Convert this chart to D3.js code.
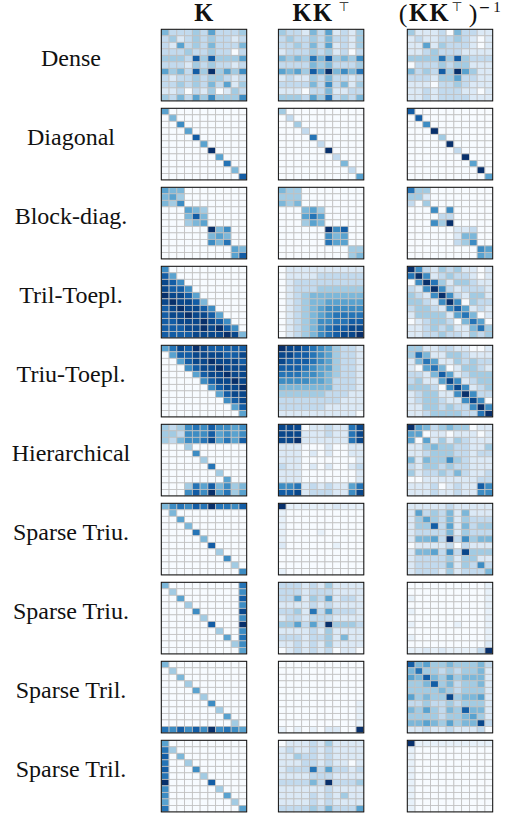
<!DOCTYPE html>
<html>
<head>
<meta charset="utf-8">
<script src="https://cdn.jsdelivr.net/npm/d3@7"></script>
<style>
  html, body { margin: 0; padding: 0; background: #fff; }
  text { font-family: "Liberation Serif", serif; fill: #111; }
</style>
</head>
<body>
<div id="chart"></div>
<script>
const rowLabels = ["Dense", "Diagonal", "Block-diag.", "Tril-Toepl.", "Triu-Toepl.", "Hierarchical",
                   "Sparse Triu.", "Sparse Triu.", "Sparse Tril.", "Sparse Tril."];

// colour levels, 0 = palest, 10 = darkest
const denseK = [
  [4,2,2,2,3,2,5,2,2,2,3],[2,3,1,2,3,2,3,2,2,1,2],[2,1,5,2,3,2,4,2,2,2,4],[2,2,2,3,2,2,3,2,2,0,2],
  [3,3,3,2,8,3,8,3,3,3,5],[2,2,2,1,3,2,3,2,2,1,2],[5,3,4,2,8,3,10,3,5,3,6],[2,1,2,2,3,2,3,3,2,1,2],
  [2,2,3,2,3,2,4,2,5,1,3],[1,1,2,0,2,1,3,0,1,3,2],[3,2,4,2,5,3,6,3,3,3,6]];
const denseKKt = [
  [3,2,2,1,4,2,5,1,2,1,3],[2,3,2,2,3,2,4,2,2,1,3],[2,2,3,2,4,2,5,1,2,1,3],[1,2,2,2,3,2,3,1,2,0,2],
  [4,3,4,3,7,4,8,3,4,3,6],[2,2,2,2,4,3,4,2,2,2,3],[5,4,5,3,8,5,10,4,6,4,7],[1,2,1,1,3,2,4,2,2,1,2],
  [2,2,2,2,4,2,6,2,4,1,3],[1,1,1,0,2,2,4,1,1,2,2],[3,3,3,2,5,3,7,2,3,2,4]];
const denseInv = [
  [3,1,1,1,2,0,4,2,2,1,1],[1,2,1,1,2,2,3,2,1,0,1],[1,1,5,1,3,2,2,2,1,0,1],[1,1,2,3,2,2,2,1,1,1,1],
  [3,3,3,3,7,3,8,3,2,2,2],[0,2,2,2,3,2,3,3,1,1,1],[4,2,3,2,8,3,10,5,3,1,1],[2,2,2,1,3,3,5,2,2,1,1],
  [1,1,1,0,2,2,3,2,1,1,1],[1,1,2,1,2,2,2,1,1,0,1],[1,1,2,1,2,2,2,2,1,1,1]];

const diagK = [
  [5,0,0,0,0,0,0,0,0,0,0],[0,4,0,0,0,0,0,0,0,0,0],[0,0,6,0,0,0,0,0,0,0,0],[0,0,0,5,0,0,0,0,0,0,0],
  [0,0,0,0,8,0,0,0,0,0,0],[0,0,0,0,0,5,0,0,0,0,0],[0,0,0,0,0,0,10,0,0,0,0],[0,0,0,0,0,0,0,5,0,0,0],
  [0,0,0,0,0,0,0,0,7,0,0],[0,0,0,0,0,0,0,0,0,4,0],[0,0,0,0,0,0,0,0,0,0,8]];
const diagKKt = [
  [3,0,0,0,0,0,0,0,0,0,0],[0,2,0,0,0,0,0,0,0,0,0],[0,0,3,0,0,0,0,0,0,0,0],[0,0,0,2,0,0,0,0,0,0,0],
  [0,0,0,0,7,0,0,0,0,0,0],[0,0,0,0,0,2,0,0,0,0,0],[0,0,0,0,0,0,10,0,0,0,0],[0,0,0,0,0,0,0,2,0,0,0],
  [0,0,0,0,0,0,0,0,4,0,0],[0,0,0,0,0,0,0,0,0,2,0],[0,0,0,0,0,0,0,0,0,0,5]];
const diagInv = [
  [8,0,0,0,0,0,0,0,0,0,0],[0,8,0,0,0,0,0,0,0,0,0],[0,0,6,0,0,0,0,0,0,0,0],[0,0,0,10,0,0,0,0,0,0,0],
  [0,0,0,0,3,0,0,0,0,0,0],[0,0,0,0,0,10,0,0,0,0,0],[0,0,0,0,0,0,2,0,0,0,0],[0,0,0,0,0,0,0,10,0,0,0],
  [0,0,0,0,0,0,0,0,5,0,0],[0,0,0,0,0,0,0,0,0,10,0],[0,0,0,0,0,0,0,0,0,0,5]];

const blockK = [
  [5,4,4,0,0,0,0,0,0,0,0],[4,5,3,0,0,0,0,0,0,0,0],[4,3,6,0,0,0,0,0,0,0,0],[0,0,0,5,4,3,0,0,0,0,0],
  [0,0,0,4,8,4,0,0,0,0,0],[0,0,0,3,4,5,0,0,0,0,0],[0,0,0,0,0,0,10,4,6,0,0],[0,0,0,0,0,0,4,5,4,0,0],
  [0,0,0,0,0,0,6,4,7,0,0],[0,0,0,0,0,0,0,0,0,5,4],[0,0,0,0,0,0,0,0,0,5,8]];
const blockKKt = [
  [4,3,3,0,0,0,0,0,0,0,0],[3,3,3,0,0,0,0,0,0,0,0],[4,3,4,0,0,0,0,0,0,0,0],[0,0,0,4,5,3,0,0,0,0,0],
  [0,0,0,5,7,5,0,0,0,0,0],[0,0,0,3,5,4,0,0,0,0,0],[0,0,0,0,0,0,10,6,8,0,0],[0,0,0,0,0,0,6,4,5,0,0],
  [0,0,0,0,0,0,7,5,5,0,0],[0,0,0,0,0,0,0,0,0,3,3],[0,0,0,0,0,0,0,0,0,3,4]];
const blockInv = [
  [7,3,3,0,0,0,0,0,0,0,0],[3,3,1,0,0,0,0,0,0,0,0],[2,0,3,0,0,0,0,0,0,0,0],[0,0,0,6,0,6,0,0,0,0,0],
  [0,0,0,0,2,2,0,0,0,0,0],[0,0,0,6,3,10,0,0,0,0,0],[0,0,0,0,0,0,1,1,2,0,0],[0,0,0,0,0,0,1,4,4,0,0],
  [0,0,0,0,0,0,2,3,6,0,0],[0,0,0,0,0,0,0,0,0,6,5],[0,0,0,0,0,0,0,0,0,5,4]];

const trilK = [
  [6,0,0,0,0,0,0,0,0,0,0],[8,5,0,0,0,0,0,0,0,0,0],[9,8,6,0,0,0,0,0,0,0,0],[9,8,8,6,0,0,0,0,0,0,0],
  [10,9,9,8,5,0,0,0,0,0,0],[9,10,9,9,8,4,0,0,0,0,0],[8,9,10,9,9,8,6,0,0,0,0],[8,9,9,10,9,9,8,5,0,0,0],
  [8,8,9,9,9,10,9,8,6,0,0],[8,8,8,9,9,10,9,10,8,6,0],[8,8,8,8,9,9,9,9,10,9,4]];
const trilKKt = [
  [0,1,1,1,1,1,1,1,1,1,1],[0,1,1,1,1,2,2,2,2,2,2],[0,1,2,2,2,2,2,2,2,2,2],[0,1,2,2,2,3,3,3,3,3,3],
  [0,1,2,3,4,4,4,4,4,4,4],[0,1,2,3,4,4,5,5,5,5,5],[0,1,2,3,4,5,6,6,6,6,6],[0,1,2,3,4,5,6,7,7,7,7],
  [0,1,2,3,4,6,6,7,7,8,8],[0,1,2,3,4,6,7,8,8,9,9],[0,1,2,3,4,6,7,8,9,9,10]];
const trilInv = [
  [10,6,2,1,3,2,3,1,1,0,1],[7,10,6,1,2,3,2,2,1,0,1],[0,6,10,7,3,1,3,3,2,1,1],[2,1,6,10,6,2,1,2,2,2,1],
  [3,2,1,6,10,6,2,1,3,3,1],[3,3,2,1,6,10,6,0,3,2,2],[2,3,3,2,1,6,8,5,1,2,1],[1,3,3,3,3,1,5,7,4,0,1],
  [0,1,2,3,3,2,0,4,7,5,0],[1,1,2,3,2,3,1,1,4,7,3],[1,1,2,2,3,2,2,1,3,2,3]];

const triuK = [
  [5,7,9,8,10,9,8,8,8,8,8],[0,5,8,8,9,9,9,9,8,8,9],[0,0,5,8,9,9,10,9,9,9,8],[0,0,0,6,8,9,9,10,9,9,9],
  [0,0,0,0,5,8,9,9,10,9,9],[0,0,0,0,0,6,8,9,9,10,9],[0,0,0,0,0,0,6,8,9,9,10],[0,0,0,0,0,0,0,5,8,9,9],
  [0,0,0,0,0,0,0,0,6,8,9],[0,0,0,0,0,0,0,0,0,5,8],[0,0,0,0,0,0,0,0,0,0,5]];
const triuKKt = [
  [10,9,9,8,7,6,5,3,2,2,1],[9,9,8,8,7,6,5,3,2,2,1],[9,8,8,8,7,6,5,3,2,2,1],[8,8,8,7,6,5,5,3,2,2,1],
  [7,7,7,6,6,5,4,3,2,2,1],[6,6,6,6,5,5,4,2,2,2,1],[4,4,4,4,4,4,4,2,2,2,1],[3,3,3,3,3,3,2,2,2,1,1],
  [2,2,2,2,2,2,2,2,1,1,1],[2,2,2,2,2,2,1,1,1,1,1],[1,1,1,1,1,1,1,1,1,1,0]];
const triuInv = [
  [3,3,1,1,2,2,1,1,0,0,1],[3,7,4,1,1,3,3,2,1,1,1],[1,4,7,5,1,1,3,2,3,2,2],[1,0,5,7,4,0,1,3,3,2,1],
  [2,2,1,4,8,5,1,2,3,3,3],[2,3,1,1,5,9,6,1,2,3,3],[3,3,3,2,0,6,9,6,1,2,3],[1,2,3,3,1,1,6,10,6,2,2],
  [1,2,3,3,2,1,1,6,9,6,0],[1,1,3,3,2,3,2,2,6,10,6],[1,1,2,3,3,3,3,2,2,7,10]];

const hierK = [
  [3,2,3,6,7,6,8,6,6,5,6],[3,3,2,6,6,6,8,5,6,5,6],[3,2,4,6,6,7,9,5,7,5,8],[0,0,0,3,0,0,0,0,0,0,0],
  [0,0,0,0,6,0,0,0,0,0,0],[0,0,0,0,0,3,0,0,0,0,0],[0,0,0,0,0,0,7,0,0,0,0],[0,0,0,0,0,0,0,3,0,0,0],
  [0,0,0,0,0,0,0,0,5,0,0],[0,0,0,3,7,5,8,4,6,3,4],[0,0,0,6,8,6,10,5,7,3,5]];
const hierKKt = [
  [9,9,9,0,1,1,2,1,1,7,9],[9,9,9,1,1,1,2,1,1,7,9],[9,9,10,1,1,1,1,1,1,7,9],[1,1,1,0,0,0,1,0,0,1,1],
  [1,1,1,0,1,0,1,0,0,1,1],[1,1,1,0,0,0,0,0,0,0,1],[2,1,1,0,1,0,1,0,0,1,2],[1,1,1,0,0,0,0,0,0,0,1],
  [1,1,1,0,0,0,0,0,0,0,1],[6,6,7,1,2,1,2,1,1,5,7],[8,8,9,1,2,2,2,1,1,6,9]];
const hierInv = [
  [10,5,4,2,3,4,3,3,0,1,1],[5,5,0,1,1,0,1,1,1,0,1],[5,0,5,1,3,1,3,2,1,1,1],[1,1,3,4,3,3,2,2,1,1,3],
  [1,1,2,3,3,3,2,2,1,2,2],[4,1,4,3,3,6,3,2,1,1,1],[2,1,3,3,2,3,2,2,1,1,1],[3,1,2,2,3,2,4,2,1,1,2],
  [0,0,1,1,1,1,1,1,1,2,2],[1,1,1,2,0,1,2,1,1,8,6],[1,1,1,2,1,1,2,1,1,6,6]];

const triuTopK = [
  [4,6,7,6,8,7,10,7,7,6,8],[0,4,0,0,0,0,0,0,0,0,0],[0,0,5,0,0,0,0,0,0,0,0],[0,0,0,4,0,0,0,0,0,0,0],
  [0,0,0,0,7,0,0,0,0,0,0],[0,0,0,0,0,4,0,0,0,0,0],[0,0,0,0,0,0,8,0,0,0,0],[0,0,0,0,0,0,0,3,0,0,0],
  [0,0,0,0,0,0,0,0,6,0,0],[0,0,0,0,0,0,0,0,0,3,0],[0,0,0,0,0,0,0,0,0,0,6]];
const triuTopKKt = [
  [10,.5,.5,.5,.5,.5,.5,1,.5,.5,.5],[.5,0,0,0,0,0,0,0,0,0,0],[.5,0,0,0,0,0,0,0,0,0,0],[.5,0,0,0,0,0,0,0,0,0,0],
  [.5,0,0,0,0,.5,0,0,0,0,0],[.5,0,0,0,0,0,0,0,0,0,0],[1,0,0,0,0,0,0,.5,0,0,0],[0,0,0,0,0,0,0,0,0,0,0],
  [0,0,0,0,0,0,0,0,0,0,0],[0,0,0,0,0,0,0,0,0,0,0],[.5,0,0,0,0,0,0,0,0,0,0]];
const triuTopInv = [
  [1,1,1,1,1,2,1,1,1,1,1],[1,5,2,3,2,4,1,4,1,1,1],[1,3,5,3,2,4,1,3,2,2,2],[1,3,3,8,2,5,1,4,2,3,3],
  [1,2,2,2,2,4,1,3,2,2,2],[1,4,4,5,2,10,2,6,3,4,4],[0,1,1,1,1,2,0,2,1,1,1],[1,4,4,5,2,6,2,9,3,3,3],
  [1,2,2,2,2,3,1,3,3,1,1],[1,2,2,2,2,4,1,3,2,6,2],[1,2,2,2,1,3,1,2,2,2,4]];

const triuEndK = [
  [4,0,0,0,0,0,0,0,0,0,7],[0,3,0,0,0,0,0,0,0,0,6],[0,0,5,0,0,0,0,0,0,0,8],[0,0,0,3,0,0,0,0,0,0,6],
  [0,0,0,0,6,0,0,0,0,0,9],[0,0,0,0,0,3,0,0,0,0,6],[0,0,0,0,0,0,8,0,0,0,10],[0,0,0,0,0,0,0,3,0,0,6],
  [0,0,0,0,0,0,0,0,5,0,7],[0,0,0,0,0,0,0,0,0,3,6],[0,0,0,0,0,0,0,0,0,0,5]];
const triuEndKKt = [
  [2,2,2,1,2,1,3,1,1,1,1],[2,2,2,1,2,2,2,1,1,1,1],[2,2,5,1,3,2,5,1,2,2,1],[1,1,1,1,2,1,2,1,1,1,1],
  [2,2,3,1,7,2,5,2,2,2,1],[1,2,2,1,2,2,2,1,1,1,1],[3,3,5,2,5,2,10,3,3,3,2],[1,1,1,1,2,1,3,1,1,1,1],
  [2,2,2,1,2,2,3,1,4,1,1],[1,1,2,1,2,1,3,1,1,1,1],[0,1,2,1,2,1,2,0,1,1,0]];
const triuEndInv = [
  [0,0,0,0,0,0,0,0,0,0,.5],[0,0,0,0,0,0,0,0,0,0,.5],[.5,0,0,0,0,0,0,0,0,0,.5],[0,0,0,0,0,0,0,0,0,0,.5],
  [.5,0,0,0,0,0,0,0,0,0,.5],[0,0,0,0,0,0,0,0,0,0,.5],[.5,0,0,0,0,0,.5,0,0,0,.5],[0,0,0,0,0,0,0,0,0,0,.5],
  [.5,0,0,0,0,0,0,0,0,0,.5],[0,0,0,0,0,0,0,0,0,0,1],[.5,.5,1,.5,1,.5,.5,.5,.5,2,10]];

const trilEndK = [
  [4,0,0,0,0,0,0,0,0,0,0],[0,3,0,0,0,0,0,0,0,0,0],[0,0,4,0,0,0,0,0,0,0,0],[0,0,0,3,0,0,0,0,0,0,0],
  [0,0,0,0,5,0,0,0,0,0,0],[0,0,0,0,0,3,0,0,0,0,0],[0,0,0,0,0,0,6,0,0,0,0],[0,0,0,0,0,0,0,3,0,0,0],
  [0,0,0,0,0,0,0,0,5,0,0],[0,0,0,0,0,0,0,0,0,3,0],[7,6,8,6,8,6,10,6,7,6,5]];
const trilEndKKt = [
  [0,0,0,0,0,0,0,0,0,0,0],[0,0,0,0,0,0,0,0,0,0,0],[0,0,0,0,0,0,0,0,0,0,0],[0,0,0,0,0,0,0,0,0,0,0],
  [0,0,0,0,0,0,0,0,0,0,0],[0,0,0,0,0,0,0,0,0,0,0],[0,0,0,0,0,0,0,0,0,0,.5],[0,0,0,0,0,0,0,0,0,0,.5],
  [0,0,0,0,0,0,0,0,0,0,.5],[0,0,0,0,0,0,0,0,0,0,.5],[.5,0,.5,0,.5,0,1,1,0,0,10]];
const trilEndInv = [
  [8,4,5,3,3,4,3,3,3,4,2],[4,7,3,3,2,3,2,3,3,4,1],[5,4,8,4,3,5,3,4,4,4,1],[3,3,4,8,3,4,2,3,3,4,1],
  [3,3,3,3,4,3,2,3,3,3,1],[5,3,4,3,3,9,3,4,4,5,1],[2,2,3,2,2,3,2,3,3,3,1],[4,3,5,3,2,4,3,8,4,4,1],
  [3,3,3,3,2,3,3,4,5,3,1],[4,4,5,4,3,5,3,4,4,9,2],[1,1,2,1,1,2,1,1,1,2,0]];

const trilFirstK = [
  [5,0,0,0,0,0,0,0,0,0,0],[7,3,0,0,0,0,0,0,0,0,0],[8,0,4,0,0,0,0,0,0,0,0],[7,0,0,3,0,0,0,0,0,0,0],
  [8,0,0,0,6,0,0,0,0,0,0],[7,0,0,0,0,3,0,0,0,0,0],[10,0,0,0,0,0,8,0,0,0,0],[6,0,0,0,0,0,0,3,0,0,0],
  [6,0,0,0,0,0,0,0,5,0,0],[5,0,0,0,0,0,0,0,0,3,0],[7,0,0,0,0,0,0,0,0,0,5]];
const trilFirstKKt = [
  [0,1,1,1,2,1,3,1,1,1,1],[1,2,1,1,2,1,2,1,1,1,1],[1,1,3,2,2,1,2,1,1,1,1],[1,1,1,2,2,1,2,1,1,0,1],
  [1,2,2,2,7,2,5,2,2,1,2],[1,1,1,1,2,2,2,1,1,1,1],[2,2,2,2,4,2,10,2,2,2,3],[1,1,1,1,1,1,2,1,1,1,1],
  [1,1,1,1,2,1,2,1,3,1,1],[1,1,1,1,2,1,2,1,1,1,1],[2,2,2,2,3,2,4,2,2,2,5]];
const trilFirstInv = [
  [10,.5,.5,.5,.5,.5,.5,.5,.5,.5,.5],[.5,0,0,0,0,0,0,0,0,0,0],[.5,0,0,0,0,0,0,0,0,0,0],[.5,0,0,0,0,0,0,0,0,0,0],
  [.5,0,0,0,0,0,0,0,0,0,0],[.5,0,0,0,0,0,0,0,0,0,0],[.5,0,0,0,0,0,0,0,0,0,0],[.5,0,0,0,0,0,0,0,0,0,0],
  [.5,0,0,0,0,0,0,0,0,0,0],[.5,0,0,0,0,0,0,0,0,0,0],[.5,0,0,0,0,0,0,0,0,0,0]];

const matrices = [
  [denseK, denseKKt, denseInv], [diagK, diagKKt, diagInv], [blockK, blockKKt, blockInv],
  [trilK, trilKKt, trilInv], [triuK, triuKKt, triuInv], [hierK, hierKKt, hierInv],
  [triuTopK, triuTopKKt, triuTopInv], [triuEndK, triuEndKKt, triuEndInv],
  [trilEndK, trilEndKKt, trilEndInv], [trilFirstK, trilFirstKKt, trilFirstInv]
];

const width = 508, height = 816;
const panelW = 85.4, panelH = 71.6;
const colX = [161.3, 278.4, 407.3];
const firstY = 29.3, rowStep = 79;

const svg = d3.select("#chart").append("svg")
    .attr("width", width)
    .attr("height", height)
    .style("display", "block");

const color = d3.scaleSequentialPow(d3.interpolateBlues).exponent(0.85).domain([0, 10]);
const cells = d3.range(11);
const xScale = d3.scaleBand().domain(cells).range([0, panelW]);
const yScale = d3.scaleBand().domain(cells).range([0, panelH]);

matrices.forEach((row, r) => {
    const top = firstY + r * rowStep;

    svg.append("text")
        .attr("x", 71)
        .attr("y", top + 36.4)
        .attr("text-anchor", "middle")
        .attr("font-size", 24)
        .text(rowLabels[r]);

    row.forEach((matrix, c) => {
        const g = svg.append("g")
            .attr("transform", `translate(${colX[c]},${top})`)
            .style("filter", "blur(0.3px)");

        g.selectAll("g")
            .data(matrix)
            .join("g")
            .attr("transform", (d, i) => `translate(0,${yScale(i)})`)
            .selectAll("rect")
            .data(d => d)
            .join("rect")
            .attr("x", (d, i) => xScale(i))
            .attr("width", xScale.bandwidth())
            .attr("height", yScale.bandwidth())
            .attr("fill", d => color(d))
            .attr("stroke", "#c0c0c0")
            .attr("stroke-width", 0.8);

        // frame round the panel
        g.append("rect")
            .attr("width", panelW)
            .attr("height", panelH)
            .attr("fill", "none")
            .attr("stroke", "#111")
            .attr("stroke-width", 1);
    });
});

// column headers
function bold(x, str) {
    svg.append("text")
        .attr("x", x).attr("y", 21)
        .attr("font-size", 24.5)
        .attr("font-weight", "bold")
        .attr("letter-spacing", 1.5)
        .attr("text-anchor", "middle")
        .text(str);
}
function plain(x, y, str, size, family) {
    svg.append("text")
        .attr("x", x).attr("y", y)
        .attr("font-size", size)
        .attr("text-anchor", "middle")
        .style("font-family", family || null)
        .text(str);
}
bold(204.5, "K");
bold(313, "KK");
plain(344, 11, "\u22A4", 12.5, "DejaVu Sans");
plain(403, 22.2, "(", 26);
bold(429.5, "KK");
plain(457, 11, "\u22A4", 12.5, "DejaVu Sans");
plain(473, 22.2, ")", 26);
plain(484.5, 12, "\u2212", 14, "DejaVu Sans");
plain(497, 12, "1", 15);
</script>
</body>
</html>
